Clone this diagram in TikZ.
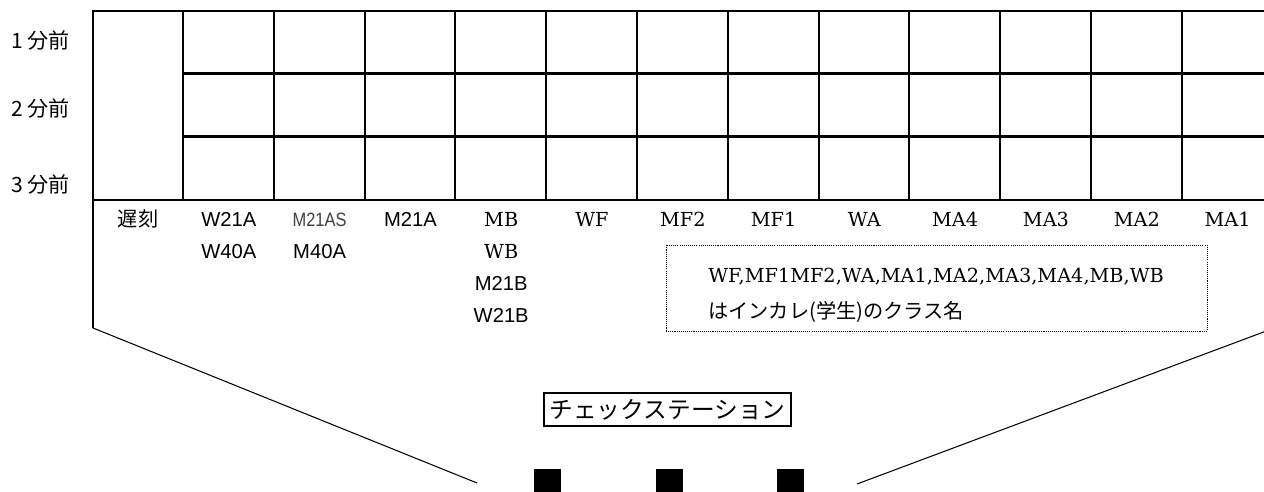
\documentclass[tikz,border=0pt]{standalone}
\usepackage{fontspec}
\usepackage{tikz}
\usetikzlibrary{positioning}
\newfontfamily\jpfont{Noto Sans CJK JP}
\newfontfamily\lblsans{Liberation Sans}
\newfontfamily\lblnarrow{Liberation Sans}[FakeStretch=0.85]
\newfontfamily\lblserif{DejaVu Serif}
\tikzset{
    gridline/.style={line width=1.2pt},
    lbl/.style={anchor=base, inner sep=0pt},
    jplbl/.style={lbl, font=\jpfont\fontsize{11.5}{13}\selectfont},
    sanslbl/.style={lbl, font=\lblsans\fontsize{11.5}{13}\selectfont},
    serlbl/.style={lbl, font=\lblserif\fontsize{11}{13}\selectfont},
    station/.style={draw, line width=1.1pt, inner sep=0pt, minimum width=4.94cm, minimum height=0.66cm, font=\jpfont\fontsize{13.5}{15}\selectfont},
    gate/.style={fill=black, inner sep=0pt, minimum size=0.54cm},
    notebox/.style={draw, line width=0.5pt, dash pattern=on 0.6pt off 0.6pt, minimum width=10.82cm, minimum height=1.72cm}
}

\begin{document}
\begin{tikzpicture}[x=0.02cm, y=-0.02cm]
    \clip (0,0) rectangle (1264,492);
    % grid
    \coordinate (lt) at (93,328);
    \coordinate (rt) at (1273,328.5);
    \draw [gridline] (lt) -- (93,11) -- (1290,11);
    \foreach \r in {73.5,136.5} \draw [gridline] (183,\r) -- (1290,\r);
    \foreach \c in {0,...,12} \draw [gridline] ({183+90.8*\c},11) -- ({183+90.8*\c},200);
    \draw [line width=1.7pt] (93,200) -- (1290,200);
    \draw [gridline] (rt) -- (1273,11);

    % minutes before
    \node (min1) [jplbl, font=\jpfont\fontsize{12}{14}\selectfont, anchor=west] at (11,40) {1 分前};
    \node (min2) [jplbl, font=\jpfont\fontsize{12}{14}\selectfont, anchor=west] at (11,108) {2 分前};
    \node (min3) [jplbl, font=\jpfont\fontsize{12}{14}\selectfont, anchor=west] at (11,184) {3 分前};

    % classes
    \node (c0) [jplbl] at (138,227) {遅刻};
    \node (c1) [sanslbl] at ({138+90.8},227) {W21A};
    \node (c2) [lbl, font=\lblnarrow\fontsize{11}{13}\selectfont, text=black!75] at ({138+90.8*2},227) {M21AS};
    \node (c3) [sanslbl] at ({138+90.8*3},227) {M21A};
    \foreach \t [count=\k from 4] in {MB,WF,MF2,MF1,WA,MA4,MA3,MA2,MA1}
        \node (c\k) [serlbl] at ({138+90.8*\k},227) {\t};
    \node (d1) [sanslbl] at ({138+90.8},259) {W40A};
    \node (d2) [sanslbl] at ({138+90.8*2},259) {M40A};
    \node (d4) [serlbl] at ({138+90.8*4},259) {WB};
    \node (e4) [sanslbl] at ({138+90.8*4},291) {M21B};
    \node (f4) [sanslbl] at ({138+90.8*4},323) {W21B};

    % note
    \node (note) [notebox] at (936.5,288) {};
    \node (note1) [serlbl, anchor=base west] at (708,283) {WF,MF1MF2,WA,MA1,MA2,MA3,MA4,MB,WB};
    \node (note2) [jplbl, anchor=base west] at (708,319) {はインカレ(学生)のクラス名};

    % check station
    \coordinate (lb) at (477,483);
    \coordinate (rb) at (857,484);
    \draw [line width=0.6pt] (lt) -- (lb);
    \draw [line width=0.6pt] (rt) -- (rb);
    \node (chk) [station] at (667.5,409.5) {チェックステーション};
    \node (g1) [gate] at (547.5,482.5) {};
    \node (g2) [gate, right=1.88cm of g1] {};
    \node (g3) [gate, right=1.88cm of g2] {};
\end{tikzpicture}
\end{document}
